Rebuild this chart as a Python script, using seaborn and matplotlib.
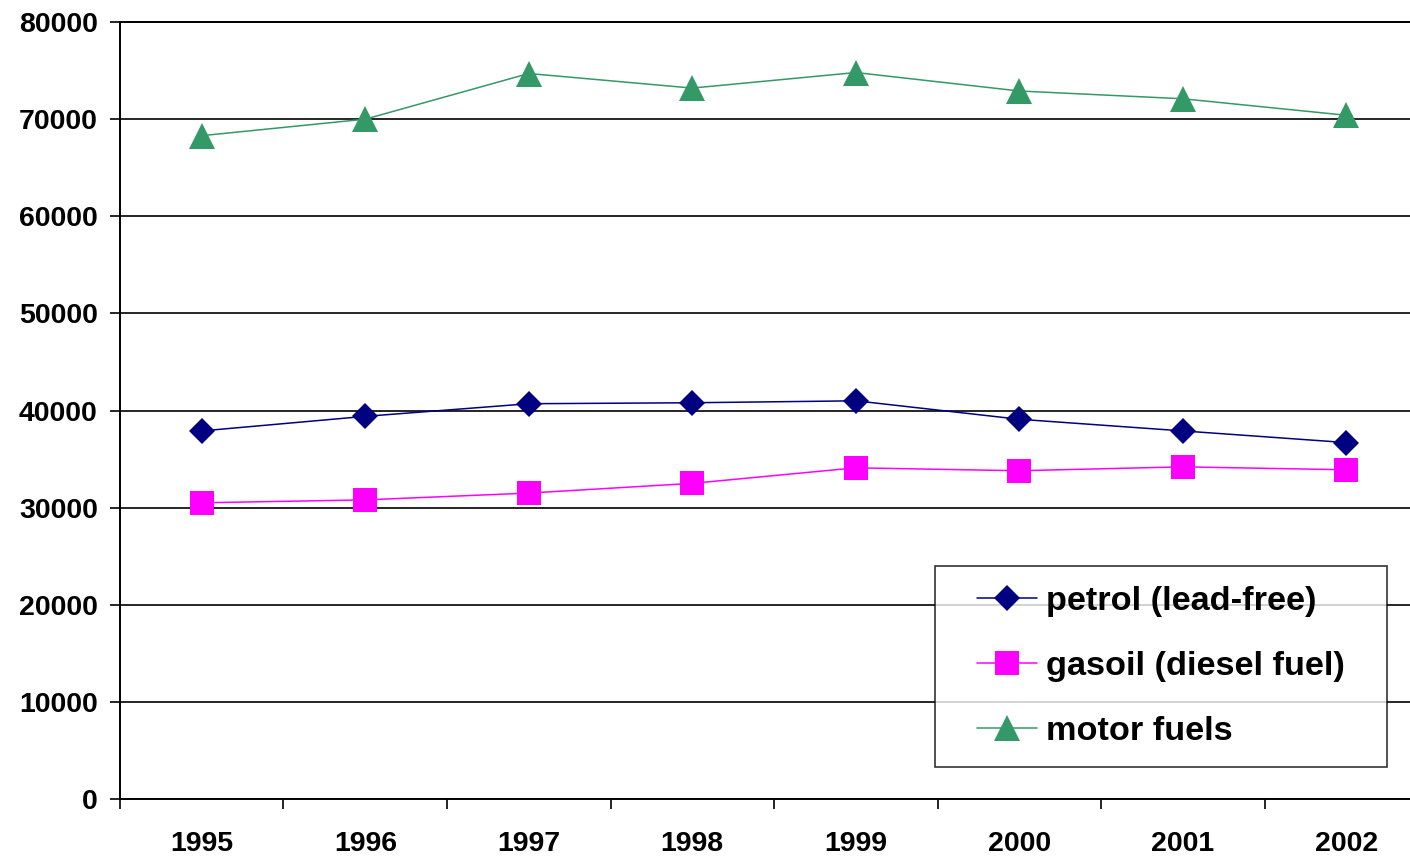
"""
Fuel consumption 1995-2002: petrol, gasoil and motor fuels.
"""

import matplotlib
matplotlib.use("Agg")
import matplotlib.pyplot as plt
from matplotlib.legend_handler import HandlerLine2D
import numpy as np
import pandas as pd
import seaborn as sns

YEARS = ["1995", "1996", "1997", "1998", "1999", "2000", "2001", "2002"]
PETROL = [37900, 39400, 40700, 40800, 41000, 39100, 37900, 36700]
GASOIL = [30500, 30800, 31500, 32500, 34100, 33800, 34200, 33900]
MOTOR = [68300, 70000, 74700, 73200, 74800, 72900, 72100, 70400]

SERIES = ["petrol (lead-free)", "gasoil (diesel fuel)", "motor fuels"]
COLORS = ["#000080", "#FF00FF", "#339966"]
MARKERS = ["D", "s", "^"]
MSIZES = [13.5, 17.5, 19]
Y_TICKS = [0, 10000, 20000, 30000, 40000, 50000, 60000, 70000, 80000]


def main():
    df = pd.DataFrame({
        "year": YEARS * 3,
        "value": PETROL + GASOIL + MOTOR,
        "series": np.repeat(SERIES, len(YEARS)),
    })

    sns.set_style("white")
    plt.rcParams["font.family"] = ["Liberation Sans", "DejaVu Sans"]
    plt.rcParams["font.weight"] = "bold"
    plt.rcParams["text.color"] = "black"
    plt.rcParams["xtick.color"] = "black"
    plt.rcParams["ytick.color"] = "black"

    fig = plt.figure(figsize=(14.1, 8.61), dpi=100)
    ax = fig.add_axes([0.0851, 0.072, 0.9277, 0.9024])

    for name, col, mk, ms in zip(SERIES, COLORS, MARKERS, MSIZES):
        sub = df[df["series"] == name]
        sns.lineplot(data=sub, x="year", y="value", color=col, marker=mk,
                     markersize=ms, markeredgecolor=col, markeredgewidth=0,
                     linewidth=1.1, label=name, ax=ax, sort=False)

    ax.set_xlim(-0.5, len(YEARS) - 0.5)
    ax.set_ylim(0, 80000)
    ax.set_yticks(Y_TICKS)
    ax.set_yticklabels([str(v) for v in Y_TICKS], fontsize=20.5, fontweight="bold")
    ax.set_xticks(range(len(YEARS)))
    ax.set_xticklabels(YEARS, fontsize=20.5, fontweight="bold")
    ax.set_xticks(np.arange(-0.5, len(YEARS) + 0.5, 1), minor=True)
    ax.tick_params(axis="x", which="major", length=0, pad=23)
    ax.tick_params(axis="x", which="minor", length=7, width=1.2, color="black",
                   direction="out", bottom=True)
    ax.tick_params(axis="y", length=7, width=1.2, color="black", direction="out",
                   left=True, pad=9)
    ax.set_xlabel("")
    ax.set_ylabel("")

    ax.yaxis.grid(True, color="black", linewidth=1.2)
    ax.xaxis.grid(False)
    for side in ["left", "bottom", "top"]:
        ax.spines[side].set_color("black")
        ax.spines[side].set_linewidth(1.4)
    ax.spines["right"].set_visible(False)

    # handle shifted right inside the box, as in the original
    leg = ax.legend(loc="lower left", bbox_to_anchor=(0.623, 0.041, 0.346, 0.257),
                    mode="expand", prop={"weight": "bold", "size": 24.7},
                    frameon=True, fancybox=False, edgecolor="black",
                    handlelength=2.39, labelspacing=1.0, borderpad=0.58,
                    handletextpad=0.27, borderaxespad=0,
                    handler_map={plt.Line2D: HandlerLine2D(xpad=0.64)})
    leg.get_frame().set_linewidth(1.2)

    fig.savefig("out.png", dpi=100)
    plt.close(fig)


if __name__ == "__main__":
    main()
